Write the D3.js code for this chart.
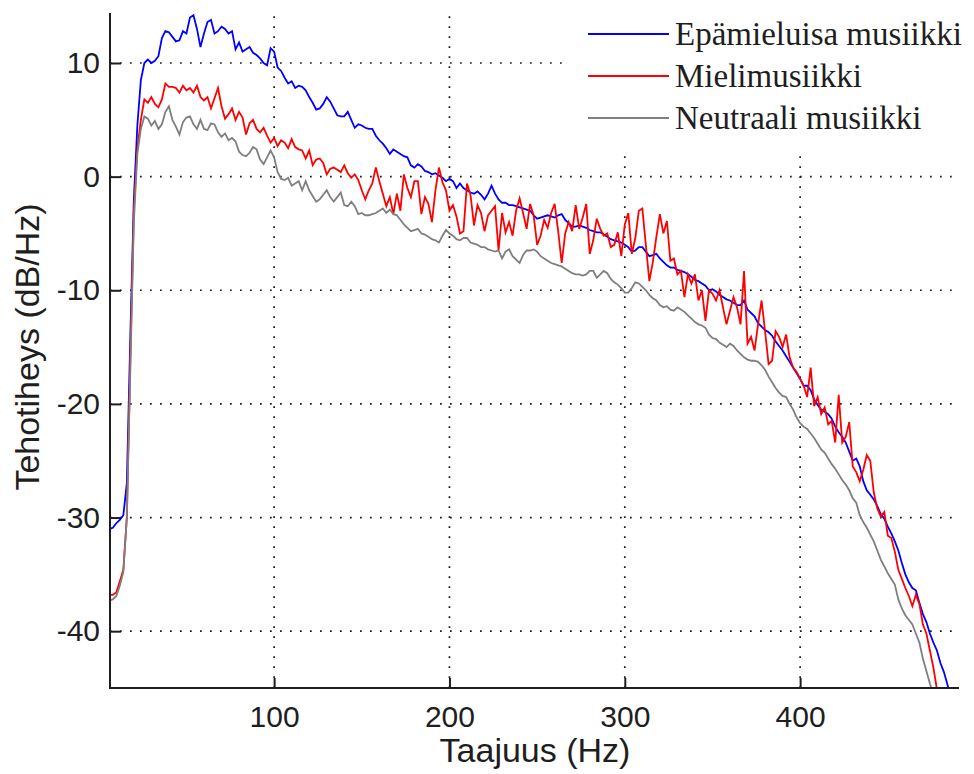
<!DOCTYPE html>
<html>
<head>
<meta charset="utf-8">
<script src="https://cdn.jsdelivr.net/npm/d3@7/dist/d3.min.js"></script>
<style>
  html, body { margin: 0; padding: 0; background: #fff; }
  svg { display: block; }
</style>
</head>
<body>
<svg id="chart" width="974" height="774"></svg>
<script>
// Frequency bins (Hz), 2 Hz apart
const frequencies = d3.range(6, 491, 2);

// Power spectral density (dB/Hz) per bin
const epamieluisa = [
  // 6–24 Hz
  -31.0, -30.9, -30.5, -30.2, -29.8, -27.0, -14.0, -2.0, 4.5, 8.5,
  // 26–100 Hz
  10.0, 10.3, 10.0, 10.2, 10.6, 12.2, 12.8, 12.7, 12.3, 11.9,
  12.0, 12.8, 12.6, 14.0, 14.2, 13.0, 11.4, 12.6, 13.6, 13.8,
  12.6, 12.8, 13.2, 13.0, 12.6, 12.8, 11.2, 11.8, 11.0, 11.2,
  11.4, 10.9, 10.7, 10.4, 10.0, 9.8, 11.3, 11.0,
  // 102–200 Hz
  9.6, 9.3, 8.7, 8.2, 8.4, 7.8, 8.0, 7.9, 7.6, 7.0,
  6.5, 5.9, 6.0, 6.4, 7.0, 6.6, 6.0, 5.4, 5.3, 5.3,
  5.7, 5.0, 4.3, 4.6, 4.5, 4.3, 4.2, 4.2, 3.6, 3.2,
  2.9, 2.5, 2.0, 2.4, 2.2, 2.0, 1.8, 1.7, 1.0, 0.8,
  1.1, 0.9, 0.5, 0.4, 0.2, 0.3, 0.1, -0.1, -0.4, -0.2,
  // 202–300 Hz
  -0.4, -1.0, -0.6, -1.0, -1.2, -1.4, -1.5, -1.3, -1.6, -2.0,
  -1.5, -0.8, -1.5, -2.0, -2.3, -2.3, -2.5, -2.5, -2.6, -2.7,
  -2.8, -2.9, -3.0, -3.4, -3.7, -3.6, -3.5, -3.4, -3.5, -3.6,
  -3.4, -3.3, -3.8, -4.1, -4.4, -4.4, -4.3, -4.4, -4.5, -4.7,
  -4.8, -4.9, -4.9, -5.1, -5.3, -5.5, -5.6, -5.7, -5.8, -6.0,
  // 302–400 Hz
  -6.2, -6.6, -6.5, -6.2, -6.2, -6.6, -7.0, -6.9, -6.8, -7.2,
  -7.5, -7.8, -8.0, -8.0, -8.2, -8.3, -8.4, -8.6, -8.8, -9.1,
  -9.2, -9.4, -9.6, -10.0, -9.9, -10.1, -10.4, -10.6, -10.8, -10.9,
  -11.1, -11.3, -11.3, -10.9, -11.7, -12.0, -12.3, -12.9, -13.2, -13.5,
  -13.7, -14.0, -14.5, -14.9, -15.3, -15.8, -16.3, -16.8, -17.3, -17.8,
  // 402–490 Hz
  -18.4, -18.4, -18.8, -19.6, -20.1, -20.5, -20.7, -20.9, -21.3, -22.0,
  -22.5, -22.9, -23.4, -24.2, -25.0, -24.8, -25.5, -26.8, -27.6, -28.0,
  -28.4, -29.0, -29.7, -30.1, -30.8, -31.4, -32.1, -32.9, -34.0, -35.0,
  -35.7, -36.2, -36.4, -37.5, -38.5, -39.2, -40.2, -41.0, -41.7, -42.8,
  -43.6, -44.7, -45.8, -46.8, -47.8
];

const mielimusiikki = [
  // 6–24 Hz
  -36.8, -36.8, -36.6, -35.6, -34.6, -30.0, -16.0, -3.0, 2.5, 5.0,
  // 26–100 Hz
  6.8, 6.5, 7.0, 6.4, 6.1, 6.8, 8.2, 7.9, 7.9, 7.8,
  7.4, 8.0, 7.6, 7.8, 7.4, 8.0, 7.0, 6.7, 7.0, 6.0,
  6.9, 7.8, 6.2, 5.1, 5.5, 6.0, 5.0, 5.7, 5.2, 3.7,
  4.7, 5.0, 4.2, 3.9, 4.3, 3.6, 3.0, 3.4,
  // 102–200 Hz
  2.7, 3.2, 3.0, 2.5, 3.3, 2.6, 2.4, 2.3, 1.6, 2.3,
  1.0, 1.5, 1.6, 1.2, 0.2, 0.7, 0.8, 0.6, 0.4, 1.0,
  0.3, -0.1, 0.2, -0.3, -1.2, -2.0, -1.2, -0.6, 0.8, -0.4,
  -1.5, -2.6, -1.8, -3.3, -1.5, -3.0, 0.2, -1.0, -1.8, -0.4,
  -0.4, -3.3, -1.8, -2.4, -4.0, -1.2, 0.8, -0.5, -1.2, -3.0,
  // 202–300 Hz
  -2.5, -3.5, -5.0, -4.8, -0.6, -1.6, -4.3, -2.5, -3.2, -4.8,
  -3.4, -3.0, -2.6, -6.5, -3.2, -4.9, -4.0, -5.2, -3.0, -1.9,
  -3.2, -4.6, -2.4, -3.4, -6.0, -5.2, -3.8, -4.5, -3.2, -2.4,
  -4.8, -7.6, -5.0, -4.0, -4.8, -2.5, -4.6, -3.6, -2.4, -6.8,
  -5.6, -3.7, -4.6, -5.2, -5.0, -6.2, -6.0, -4.9, -7.0, -4.2,
  // 302–400 Hz
  -3.2, -6.8, -5.4, -3.0, -2.8, -6.0, -9.2, -7.5, -5.3, -3.3,
  -5.0, -3.9, -7.4, -7.2, -8.6, -8.3, -10.6, -8.6, -9.4, -8.6,
  -10.9, -10.0, -12.7, -10.0, -10.3, -10.9, -10.0, -11.5, -13.0, -11.8,
  -10.6, -11.5, -13.0, -8.3, -14.7, -14.1, -15.3, -13.0, -10.9, -13.6,
  -16.5, -16.2, -13.6, -14.1, -15.0, -13.9, -15.9, -16.8, -17.2, -17.8,
  // 402–490 Hz
  -18.4, -19.4, -16.8, -20.2, -19.4, -20.9, -20.3, -21.8, -21.5, -23.4,
  -19.2, -23.4, -22.9, -21.6, -25.5, -26.0, -26.8, -25.8, -24.5, -25.0,
  -27.8, -29.2, -29.9, -29.5, -31.6, -31.8, -33.0, -34.6, -35.4, -36.2,
  -36.9, -37.8, -36.8, -37.6, -39.4, -40.2, -41.7, -43.2, -45.1, -46.5,
  -47.5, -48.5, -49.5, -50.5, -51.5
];

const neutraali = [
  // 6–24 Hz
  -37.3, -37.2, -36.9, -36.0, -34.8, -30.0, -17.0, -4.0, 2.0, 4.2,
  // 26–100 Hz
  5.3, 5.1, 4.5, 4.9, 4.2, 4.6, 5.7, 6.2, 5.0, 4.4,
  3.7, 4.8, 5.2, 5.3, 4.6, 4.2, 5.0, 4.2, 4.1, 4.7,
  4.6, 3.9, 3.5, 3.8, 3.2, 3.4, 3.1, 2.2, 1.9, 1.8,
  2.1, 2.6, 2.4, 1.5, 1.1, 1.7, 2.3, 1.7,
  // 102–200 Hz
  0.4, -0.2, -0.3, -0.1, -0.8, -0.6, -0.4, -1.2, -0.4, -1.2,
  -1.7, -2.2, -2.0, -1.6, -1.2, -1.8, -2.2, -1.8, -1.4, -2.5,
  -2.6, -2.2, -2.6, -3.3, -3.2, -3.4, -3.4, -3.3, -3.2, -3.0,
  -2.8, -3.2, -2.9, -3.3, -3.4, -3.8, -4.2, -4.5, -4.8, -4.7,
  -4.6, -5.0, -5.1, -5.3, -5.5, -5.6, -5.8, -5.2, -4.7, -5.0,
  // 202–300 Hz
  -5.2, -5.5, -5.6, -5.4, -5.4, -5.8, -5.9, -6.0, -6.2, -6.2,
  -6.4, -6.5, -6.6, -6.5, -7.2, -6.6, -6.4, -7.0, -7.3, -7.6,
  -6.9, -6.5, -6.5, -6.4, -6.6, -7.0, -7.2, -7.4, -7.6, -7.7,
  -7.8, -7.9, -8.1, -8.3, -8.5, -8.6, -8.6, -8.7, -8.6, -8.3,
  -8.3, -8.9, -8.6, -8.3, -8.5, -9.0, -9.3, -9.5, -9.8, -10.2,
  // 302–400 Hz
  -10.2, -9.8, -9.3, -9.4, -9.7, -10.0, -10.4, -10.7, -10.9, -11.3,
  -11.5, -11.4, -11.7, -11.8, -11.5, -11.7, -11.9, -12.2, -12.5, -12.8,
  -13.0, -13.1, -13.3, -13.9, -14.2, -14.3, -14.6, -14.8, -15.0, -14.7,
  -14.9, -15.3, -15.6, -15.9, -16.1, -16.2, -16.2, -16.3, -16.6, -17.0,
  -17.6, -18.1, -18.6, -19.0, -19.3, -19.4, -20.0, -20.5, -21.2, -21.7,
  // 402–490 Hz
  -22.0, -22.2, -22.6, -23.0, -23.5, -24.0, -24.3, -24.8, -25.3, -25.7,
  -26.2, -26.7, -27.1, -27.6, -28.3, -28.7, -29.8, -30.4, -30.9, -31.5,
  -32.1, -32.9, -33.7, -34.3, -34.9, -35.4, -35.9, -37.2, -38.0, -38.6,
  -39.0, -39.4, -40.2, -41.0, -42.4, -43.5, -44.6, -45.6, -46.6, -47.6,
  -48.6, -49.6, -50.6, -51.6, -52.6
];

const seriesNames = ["Epämieluisa musiikki", "Mielimusiikki", "Neutraali musiikki"];
const seriesColors = ["#0000ff", "#ff0000", "#7f7f7f"];
const seriesValues = [epamieluisa, mielimusiikki, neutraali];

const xTicks = [100, 200, 300, 400];
const yTicks = [-40, -30, -20, -10, 0, 10];
const xDomain = [6.4, 490.6];
const yDomain = [-45, 14.4];

const xLabel = "Taajuus (Hz)";
const yLabel = "Tehotiheys (dB/Hz)";

// Plot geometry
const plot = { left: 110, right: 959, top: 13, bottom: 688 };
const svg = d3.select("#chart");

const x = d3.scaleLinear().domain(xDomain).range([plot.left, plot.right]);
const y = d3.scaleLinear().domain(yDomain).range([plot.bottom, plot.top]);

const axisFont = "'Liberation Sans', Arial, sans-serif";
const legendFont = "'Liberation Serif', 'Times New Roman', serif";
const inkColor = "#1e1e1e";

svg.append("defs").append("clipPath").attr("id", "plot-clip")
  .append("rect")
  .attr("x", plot.left).attr("y", plot.top)
  .attr("width", plot.right - plot.left).attr("height", plot.bottom - plot.top);

// Dotted grid
const grid = svg.append("g").attr("stroke", "#1a1a1a").attr("stroke-width", 1.7)
  .attr("stroke-dasharray", "1.7 8.3");
grid.selectAll("line.gy").data(yTicks).join("line")
  .attr("x1", plot.left).attr("x2", plot.right)
  .attr("y1", d => y(d)).attr("y2", d => y(d));
grid.selectAll("line.gx").data(xTicks).join("line")
  .attr("y1", plot.bottom).attr("y2", plot.top)
  .attr("x1", d => x(d)).attr("x2", d => x(d));

// Spectra
const line = d3.line()
  .x((d, i) => x(frequencies[i]))
  .y(d => y(d));

svg.append("g").attr("clip-path", "url(#plot-clip)")
  .selectAll("path").data(seriesValues).join("path")
  .attr("d", d => line(d))
  .attr("fill", "none")
  .attr("stroke", (d, i) => seriesColors[i])
  .attr("stroke-width", 1.8)
  .attr("stroke-linejoin", "miter");

// Axes with inward ticks
const xAxis = d3.axisBottom(x).tickValues(xTicks).tickSize(-10).tickPadding(18).tickFormat(d3.format("d"));
const yAxis = d3.axisLeft(y).tickValues(yTicks).tickSize(-11).tickPadding(10).tickFormat(d => String(d));

const gx = svg.append("g").attr("transform", `translate(0,${plot.bottom})`).call(xAxis);
const gy = svg.append("g").attr("transform", `translate(${plot.left},0)`).call(yAxis);

[gx, gy].forEach(g => {
  g.select(".domain").remove();
  g.selectAll(".tick line").attr("stroke", inkColor).attr("stroke-width", 2);
  g.selectAll(".tick text")
    .attr("fill", inkColor)
    .style("font-family", axisFont)
    .style("font-size", "30px");
});
gx.selectAll(".tick text").attr("dy", "0.71em");

svg.append("line")
  .attr("x1", plot.left).attr("x2", plot.left)
  .attr("y1", plot.top).attr("y2", plot.bottom + 1)
  .attr("stroke", inkColor).attr("stroke-width", 2);
svg.append("line")
  .attr("x1", plot.left - 1).attr("x2", plot.right)
  .attr("y1", plot.bottom).attr("y2", plot.bottom)
  .attr("stroke", inkColor).attr("stroke-width", 2);

// Axis titles
svg.append("text")
  .attr("x", 535)
  .attr("y", 762)
  .attr("text-anchor", "middle")
  .style("font-family", axisFont)
  .style("font-size", "34px")
  .attr("fill", inkColor)
  .text(xLabel);

svg.append("text")
  .attr("transform", `translate(39,347) rotate(-90)`)
  .attr("text-anchor", "middle")
  .style("font-family", axisFont)
  .style("font-size", "34px")
  .attr("fill", inkColor)
  .text(yLabel);

// Legend
const legend = svg.append("g");
legend.append("rect")
  .attr("x", 566).attr("y", 4).attr("width", 404).attr("height", 144)
  .attr("fill", "#fff");
const rows = legend.selectAll("g.row").data(seriesNames).join("g")
  .attr("transform", (d, i) => `translate(0,${34 + i * 42})`);
rows.append("line")
  .attr("x1", 588).attr("x2", 669).attr("y1", 0).attr("y2", 0)
  .attr("stroke", (d, i) => seriesColors[i]).attr("stroke-width", 2);
rows.append("text")
  .attr("x", 675).attr("y", 11)
  .style("font-family", legendFont)
  .style("font-size", "33px")
  .attr("fill", inkColor)
  .text(d => d);
</script>
</body>
</html>
